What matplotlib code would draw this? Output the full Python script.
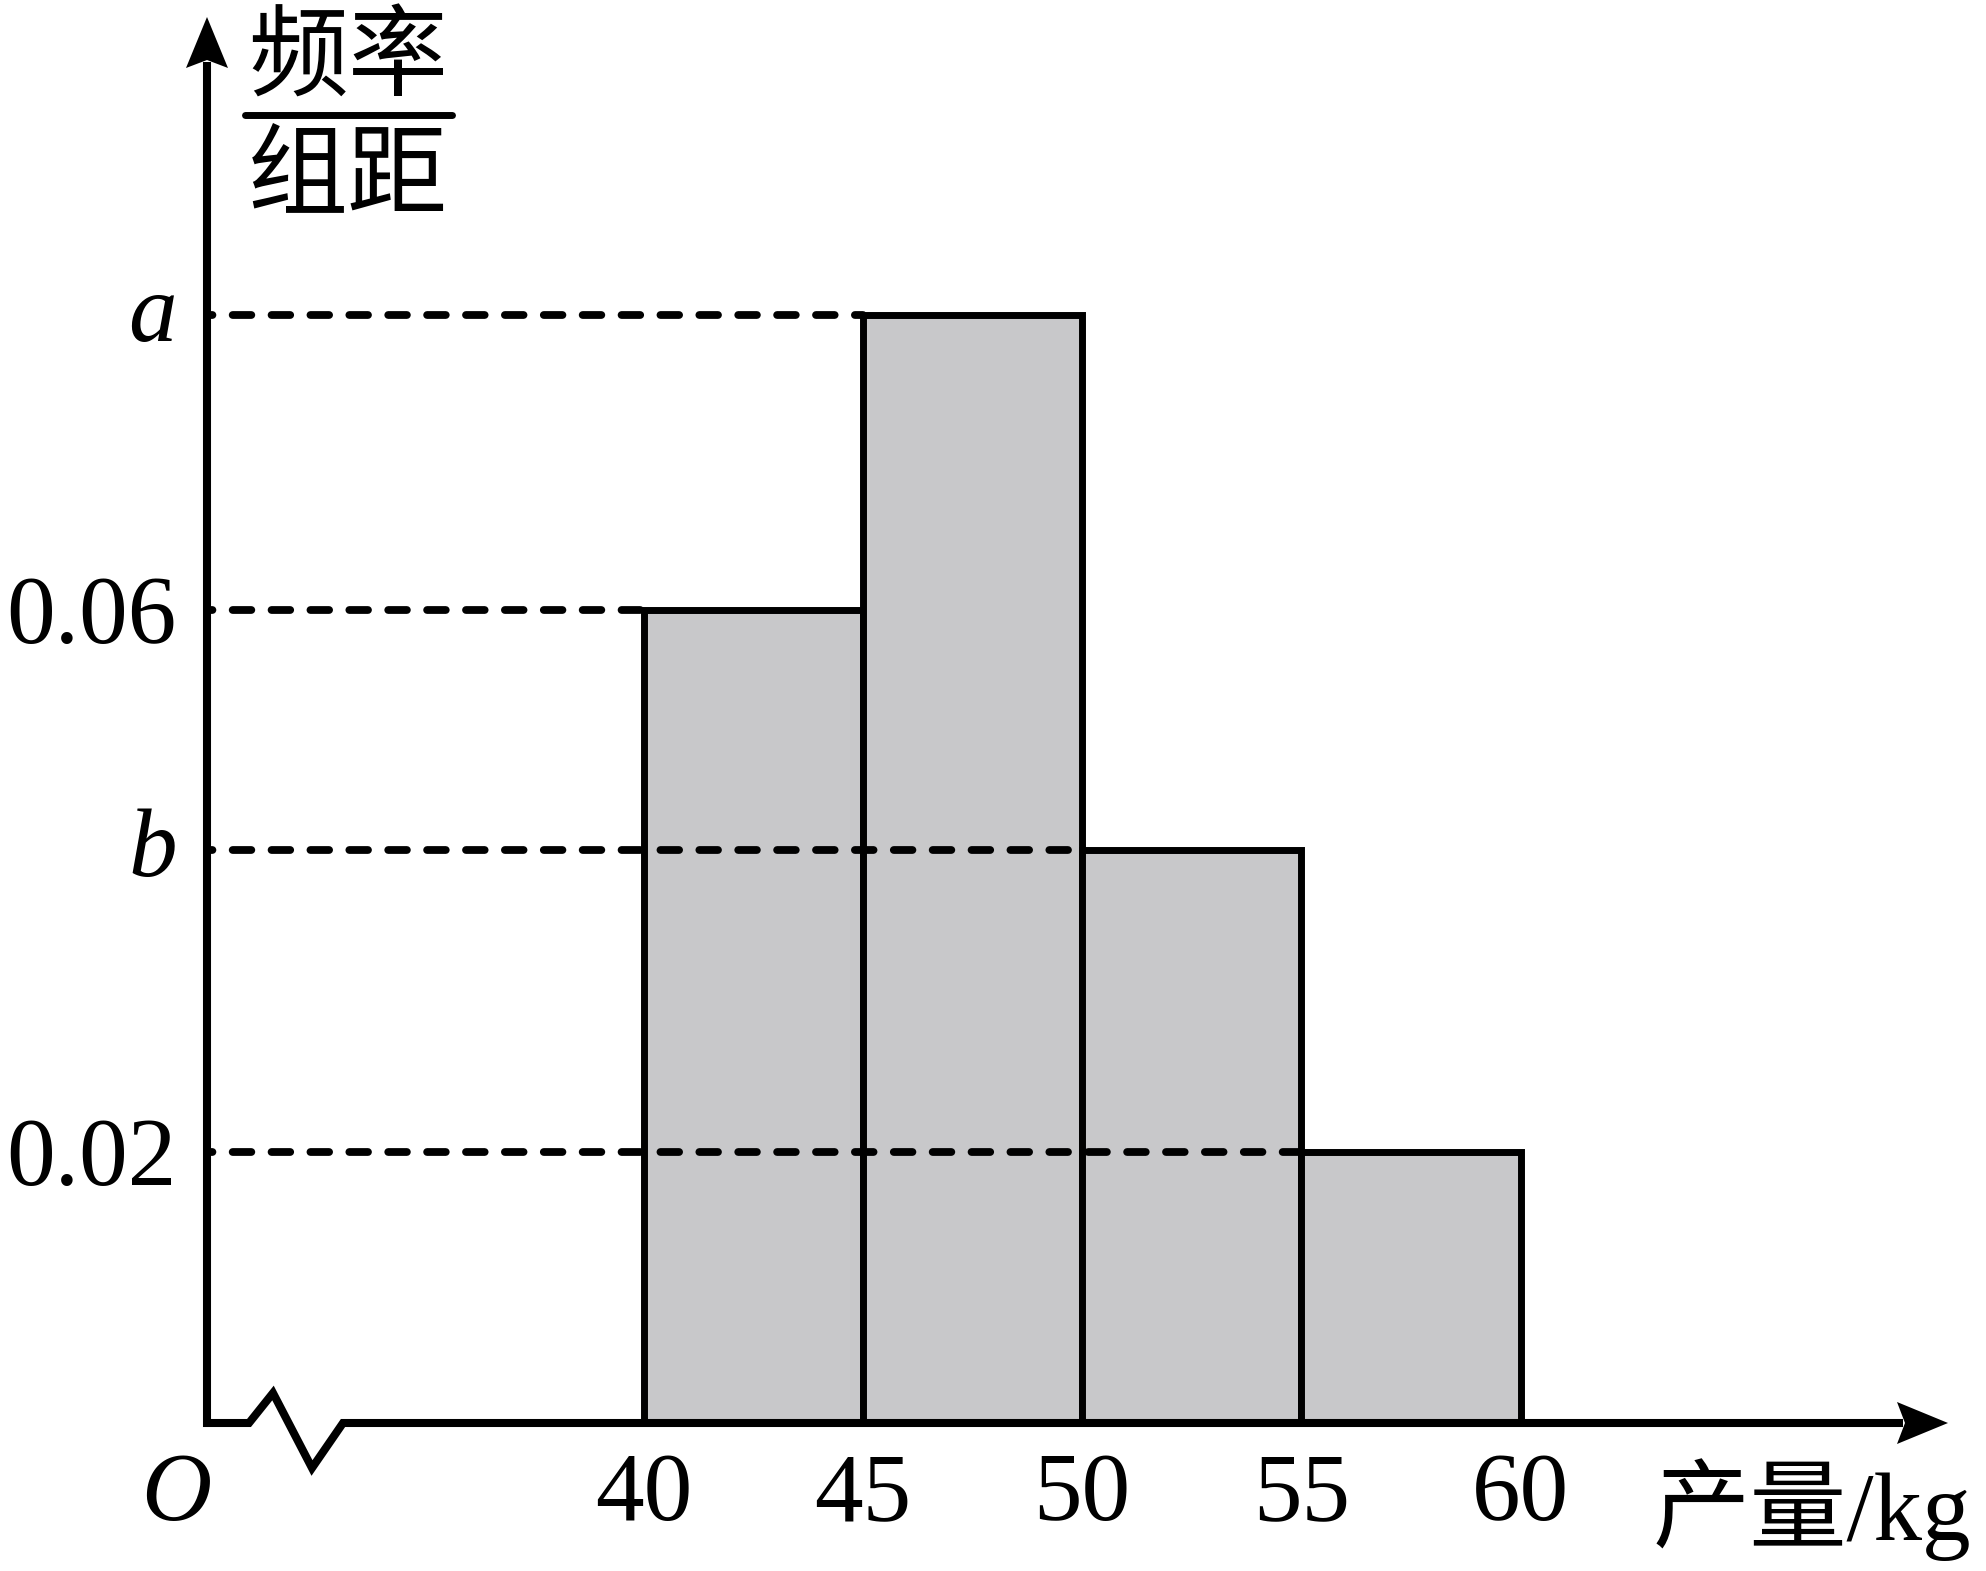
import matplotlib
matplotlib.use('Agg')
import matplotlib.pyplot as plt
import numpy as np

# 频率分布直方图数据
bin_edges = [40, 45, 50, 55, 60]
heights = [0.06, 0.0818, 0.0423, 0.02]    # 图中 a≈0.08, b≈0.04
y_marks = [0.02, 0.0423, 0.06, 0.0818]
y_mark_labels = ['0.02', 'b', '0.06', 'a']
x_tick_labels = ['40', '45', '50', '55', '60']
origin_x = 30          # 断轴，原点处代表的刻度

# 画布尺寸与比例（像素）
W, H = 1986, 1571
PX_X = 43.85           # 每 1 kg 的像素
PX_Y = 13550           # 每 1 单位 频率/组距 的像素
AX_X, AX_Y = 205, 1423 # 原点在画布中的像素位置（自上而下）
AXIS_DX = 2            # 纵轴线相对原点的微小偏移


def px(dx, dy):
    # 以原点为基准的像素偏移 -> 数据坐标
    return origin_x + dx / PX_X, dy / PX_Y


fig = plt.figure(figsize=(W / 100, H / 100), dpi=100)
ax = fig.add_axes([0, 0, 1, 1])
ax.set_xlim(origin_x - AX_X / PX_X, origin_x + (W - AX_X) / PX_X)
ax.set_ylim(-(H - AX_Y) / PX_Y, AX_Y / PX_Y)
ax.axis('off')

serif = 'Liberation Serif'
fs = 70

# 直方图
ax.bar(bin_edges[:-1], heights, width=5, align='edge', color='#c8c8ca',
       edgecolor='black', linewidth=5.0, zorder=2)

# 虚线
ax_x0 = px(AXIS_DX, 0)[0]
for v in y_marks:
    x_end = bin_edges[heights.index(v)]
    ax.plot([ax_x0, x_end], [v, v], color='black', linewidth=5.6,
            linestyle=(1.7, (2.4, 2.6)), dash_capstyle='round', zorder=3)

# 坐标轴（含断轴折线）
y_tip = px(0, AX_Y - 17)[1]
x_tip = px(1948 - AX_X, 0)[0]
head_len, head_half = 51, 21
brk_dx = np.array([0, 42, 66, 105, 136]) + AXIS_DX
brk_dy = np.array([0, 0, 30, -45, 0])
axis_x = [ax_x0, ax_x0] + list(origin_x + brk_dx / PX_X) + [x_tip - (head_len - 6) / PX_X]
axis_y = [y_tip - (head_len - 6) / PX_Y, 0] + list(brk_dy / PX_Y) + [0]
ax.plot(axis_x, axis_y, color='black', linewidth=5.8, solid_joinstyle='miter',
        solid_capstyle='butt', zorder=4)

# 箭头
ax.fill([x_tip, x_tip - head_len / PX_X, x_tip - (head_len - 8) / PX_X, x_tip - head_len / PX_X],
        [0, head_half / PX_Y, 0, -head_half / PX_Y], color='black', zorder=5, lw=0)
ax.fill([ax_x0, ax_x0 + head_half / PX_X, ax_x0, ax_x0 - head_half / PX_X],
        [y_tip, y_tip - head_len / PX_Y, y_tip - (head_len - 8) / PX_Y, y_tip - head_len / PX_Y],
        color='black', zorder=5, lw=0)

# 纵轴标注
for v, lab in zip(y_marks, y_mark_labels):
    letter = lab.isalpha()
    ax.text(ax_x0 - 30 / PX_X, v - (26 if letter else 33) / PX_Y, lab,
            ha='right', va='baseline', fontsize=fs, family=serif,
            style='italic' if letter else 'normal', zorder=6)

# 横轴刻度
for e, lab in zip(bin_edges, x_tick_labels):
    ax.text(e, -97 / PX_Y, lab, ha='center', va='baseline', fontsize=fs,
            family=serif, zorder=6)

ax.text(*px(AXIS_DX - 31, -97), 'O', ha='center', va='baseline', fontsize=fs,
        family=serif, style='italic')

ax.text(*px(1653 - AX_X, -(1540 - AX_Y)), '产量/kg', ha='left', va='baseline',
        fontsize=fs, family=[serif, 'Noto Sans CJK SC'])

# 纵轴名称 频率/组距
cx = 348 - AX_X
ax.text(*px(cx, AX_Y - 60), '频率', ha='center', va='center', fontsize=72,
        family='Noto Sans CJK SC')
ax.text(*px(cx, AX_Y - 177), '组距', ha='center', va='center', fontsize=72,
        family='Noto Sans CJK SC')
fx0, fy = px(245 - AX_X, AX_Y - 115)
fx1, _ = px(452 - AX_X, AX_Y - 115)
ax.plot([fx0, fx1], [fy, fy], color='black', linewidth=5.0, solid_capstyle='round')

fig.savefig('out.png', dpi=100)
